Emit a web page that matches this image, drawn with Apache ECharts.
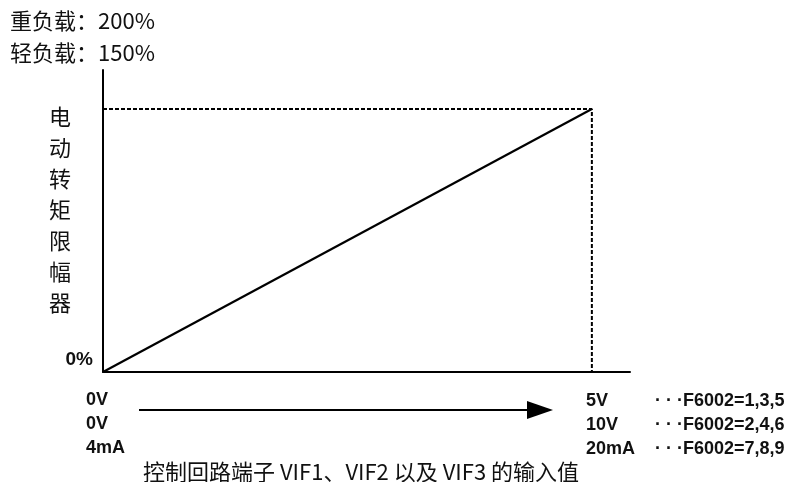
<!DOCTYPE html>
<html>
<head>
<meta charset="utf-8">
<script src="https://cdn.jsdelivr.net/npm/echarts@6/dist/echarts.min.js"></script>
<style>html,body{margin:0;padding:0;background:#fff;}#c{width:791px;height:482px;}</style>
</head>
<body>
<div id="c"></div>
<script>
// ---- data ----
var lineX = [0, 100];
var lineY = [0, 100];
var guideX = [0, 100, 100];
var guideY = [100, 100, 0];
var loadNotes = ['重负载：200%', '轻负载：150%'];
var yTitle = '电动转矩限幅器';
var xTitle = '控制回路端子 VIF1、VIF2 以及 VIF3 的输入值';
var zeroLabel = '0%';
var startLabels = ['0V', '0V', '4mA'];
var endLabels = ['5V', '10V', '20mA'];
var codeLabels = ['F6002=1,3,5', 'F6002=2,4,6', 'F6002=7,8,9'];

var chart = echarts.init(document.getElementById('c'), null, {renderer: 'canvas'});
var cjk = '"Noto Sans CJK SC", sans-serif';
var latB = 'bold 18px "Liberation Sans", Arial, sans-serif';

function pairs(xs, ys) { return xs.map(function (x, i) { return [x, ys[i]]; }); }

var graphics = [];
loadNotes.forEach(function (t, i) {
  graphics.push({type: 'text', left: 10, top: 23 + i * 32 - 13,
    style: {text: t, font: '22px ' + cjk, fill: '#111'}});
});
graphics.push({type: 'text', x: 60, y: 210,
  style: {text: yTitle.split('').join('\n'), font: '22px ' + cjk, lineHeight: 31,
    align: 'center', verticalAlign: 'middle', fill: '#111'}});
graphics.push({type: 'text', x: 93, y: 360,
  style: {text: zeroLabel, font: 'bold 19px "Liberation Sans", Arial, sans-serif', align: 'right', verticalAlign: 'middle', fill: '#111'}});
startLabels.forEach(function (t, i) {
  graphics.push({type: 'text', x: 86, y: 400 + i * 24,
    style: {text: t, font: latB, align: 'left', verticalAlign: 'middle', fill: '#111'}});
});
endLabels.forEach(function (t, i) {
  graphics.push({type: 'text', x: 586, y: 401 + i * 24,
    style: {text: t, font: latB, align: 'left', verticalAlign: 'middle', fill: '#111'}});
  graphics.push({type: 'text', x: 655, y: 401 + i * 24,
    style: {text: '· · ·' + codeLabels[i], font: latB, align: 'left', verticalAlign: 'middle', fill: '#111'}});
});
graphics.push({type: 'line', shape: {x1: 139, y1: 410, x2: 530, y2: 410},
  style: {stroke: '#000', lineWidth: 2}});
graphics.push({type: 'polygon', shape: {points: [[527, 401], [553, 410], [527, 419]]},
  style: {fill: '#000'}});
graphics.push({type: 'text', x: 143, y: 472,
  style: {text: xTitle, font: '22px ' + cjk, align: 'left', verticalAlign: 'middle', fill: '#111'}});

chart.setOption({
  animation: false,
  backgroundColor: '#fff',
  grid: {left: 103, top: 70, right: 161, bottom: 110},
  xAxis: {type: 'value', min: 0, max: 107.8,
    axisLine: {show: true, lineStyle: {color: '#000', width: 2}},
    axisTick: {show: false}, axisLabel: {show: false}, splitLine: {show: false}},
  yAxis: {type: 'value', min: 0, max: 114.8,
    axisLine: {show: true, lineStyle: {color: '#000', width: 2}},
    axisTick: {show: false}, axisLabel: {show: false}, splitLine: {show: false}},
  series: [
    {type: 'line', data: pairs(guideX, guideY), symbol: 'none', silent: true,
      lineStyle: {color: '#000', width: 2, type: [4, 2]}},
    {type: 'line', data: pairs(lineX, lineY), symbol: 'none', silent: true,
      lineStyle: {color: '#000', width: 2.2}}
  ],
  graphic: graphics
});
</script>
</body>
</html>
